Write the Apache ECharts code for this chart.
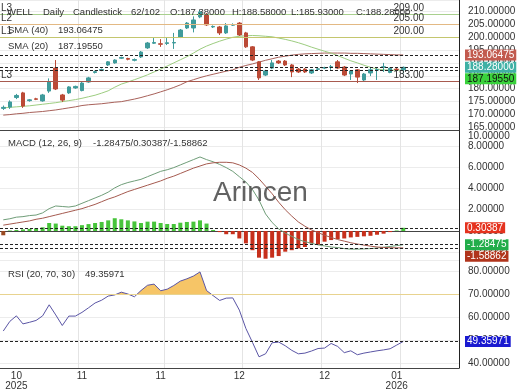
<!DOCTYPE html>
<html><head><meta charset="utf-8">
<script src="https://cdn.jsdelivr.net/npm/echarts@6/dist/echarts.min.js"></script>
<style>html,body{margin:0;padding:0;background:#fff}#c{width:520px;height:390px}</style>
</head><body><div id="c"></div>
<script>
const N_SLOTS = 70;
const categories = Array.from({length: N_SLOTS}, (_, i) => 'D' + (i + 1));

const opens  = [172.4,172.9,176.6,178.4,175.4,176.1,175.3,179.1,188.0,177.6,178.4,180.3,179.3,182.6,186.3,187.1,189.2,190.0,191.8,191.7,191.0,192.3,195.8,197.6,197.4,197.5,197.7,200.0,203.5,203.5,207.8,208.5,203.9,203.9,201.6,204.6,205.4,201.6,196.2,190.4,185.3,188.0,190.7,190.7,189.2,187.6,187.6,186.1,187.5,188.0,188.3,190.4,188.4,185.7,187.3,183.4,186.1,187.2,188.3,186.3,187.6,187.38];
const closes = [172.8,174.9,177.4,173.3,175.7,175.9,177.6,182.6,179.9,175.6,180.7,180.9,182.2,184.2,186.6,187.4,190.4,191.1,192.1,191.4,191.3,194.2,197.7,197.9,197.2,197.8,197.9,202.7,205.4,206.6,209.7,204.7,204.1,201.6,204.3,204.8,200.8,196.2,191.1,184.2,186.9,190.0,190.0,189.2,186.5,186.5,186.5,187.3,187.7,188.2,188.5,188.0,185.3,186.9,184.5,185.7,187.3,187.4,188.5,187.9,187.4,188.28];
const lows   = [171.8,172.2,176.0,172.6,175.0,175.6,175.0,178.4,179.5,174.9,178.0,180.0,179.0,182.3,185.9,186.8,188.8,189.7,191.5,191.0,190.6,191.9,195.4,197.3,196.2,196.9,195.4,199.6,203.1,201.8,207.3,204.3,203.5,200.8,201.2,204.3,200.4,195.8,190.7,183.4,184.9,187.6,189.6,188.8,184.5,186.1,186.1,185.7,187.2,187.6,187.3,187.6,184.9,183.4,182.2,183.0,184.9,183.4,186.5,186.0,186.8,185.93];
const highs  = [173.5,175.5,178.0,178.8,176.0,176.5,178.0,184.0,191.1,178.0,181.0,181.2,182.6,184.6,187.0,187.8,190.7,191.4,192.4,192.0,191.7,194.6,198.1,199.6,199.2,199.6,201.6,203.1,205.8,208.0,210.5,209.3,204.5,204.3,205.4,205.3,205.8,202.0,196.5,190.7,187.3,191.1,191.1,191.1,189.6,188.0,188.0,187.6,188.1,188.5,189.2,191.1,188.8,187.2,187.6,186.1,188.4,188.0,190.0,188.2,188.3,188.58];

const sma20 = [172.6,172.8,173.0,173.2,173.4,173.7,174.0,174.3,174.6,175.0,175.4,175.8,176.3,176.9,177.5,178.3,179.2,180.6,181.8,182.6,183.5,184.4,185.4,186.5,187.6,188.8,190.0,191.2,192.4,193.8,195.3,196.5,197.5,198.4,199.2,199.9,200.3,200.5,200.6,200.5,200.3,200.1,199.6,199.1,198.5,197.8,197.0,196.1,195.3,194.5,193.8,192.8,191.8,190.8,190.0,189.1,188.3,187.6,187.3,187.2,187.15,187.1955];
const sma40 = [169.8,170.0,170.3,170.5,170.8,171.0,171.2,171.5,171.8,172.2,172.6,173.0,173.5,173.8,174.0,174.2,174.5,174.8,175.0,175.5,176.0,176.6,177.3,178.0,178.8,179.6,180.5,181.5,182.7,183.5,184.3,185.0,185.6,186.2,186.8,187.3,188.3,189.0,189.6,190.3,191.0,191.6,192.2,192.6,193.0,193.3,193.5,193.6,193.7,193.8,193.8,193.8,193.8,193.7,193.7,193.6,193.5,193.4,193.3,193.2,193.1,193.06475];

const macdLine = [1.05,1.15,1.3,1.35,1.45,1.5,1.7,2.1,2.35,2.3,2.25,2.35,2.6,2.85,3.1,3.35,3.65,4.05,4.35,4.55,4.7,4.85,5.1,5.35,5.6,5.75,5.95,6.2,6.45,6.7,6.95,6.7,6.5,6.25,5.95,5.6,5.1,4.6,3.9,2.9,1.6,0.8,0.2,-0.2,-0.5,-0.8,-1.0,-1.15,-1.3,-1.4,-1.5,-1.55,-1.65,-1.7,-1.7,-1.68,-1.65,-1.6,-1.52,-1.45,-1.37,-1.28475];
const signalLine = [0.55,0.65,0.75,0.85,0.95,1.1,1.2,1.35,1.5,1.65,1.8,1.95,2.1,2.3,2.5,2.75,3.0,3.2,3.45,3.7,3.9,4.1,4.3,4.5,4.7,4.95,5.15,5.4,5.65,5.9,6.1,6.3,6.4,6.45,6.45,6.4,6.2,5.9,5.5,4.9,4.2,3.5,2.7,2.0,1.4,0.85,0.45,0.1,-0.15,-0.4,-0.6,-0.8,-0.95,-1.1,-1.22,-1.32,-1.42,-1.5,-1.54,-1.57,-1.58,-1.58862];
const macdHist = [-0.4,0.05,0.1,0.15,0.2,0.25,0.35,0.75,0.7,0.5,0.45,0.45,0.55,0.65,0.75,0.85,1.0,1.2,1.1,1.0,0.9,0.75,0.88,0.88,0.75,0.66,0.66,0.78,0.85,0.88,1.0,0.7,0.1,-0.1,-0.3,-0.3,-0.7,-1.16,-1.8,-2.5,-2.6,-2.5,-2.35,-1.94,-1.8,-1.63,-1.5,-1.16,-1.3,-1.0,-0.85,-0.75,-0.7,-0.6,-0.55,-0.5,-0.45,-0.35,-0.25,-0.1,0.05,0.30387];

const rsi = [53.9,58.1,60.5,57,57.7,58.5,60.5,65.3,60.9,56.3,60.4,60.4,62,64,66.1,67.3,69.1,69.6,70.8,70.0,68.8,71.5,73.8,74.3,71.4,72.1,73.7,75.6,76.6,77.8,79.6,71.5,69.3,67.2,68.2,68.3,63,55,49,42.7,44,48.8,49.1,47.5,45.5,44,44.3,45.2,46.3,46.5,48.5,47.2,44.5,45.3,43.6,44.3,44.8,45.3,45.7,46.2,47.8,49.35971];

const priceLevels = [209, 205, 200, 183];
const levelNames = ['L3', 'L2', 'L1', 'L3'];
const levelColors = ['#a9d08e', '#e3b984', '#c4c66e', '#a85a4f'];
const rsiUpper = 70;

const xTickIndex = [2, 12, 24, 36, 49, 60];
const xTickLabels = ['10\n2025', '11', '11', '12', '12', '01\n2026'];
const xGridIndex = [12, 25, 37, 49, 61];

const FONT = '"Liberation Sans", Arial, sans-serif';
const last = opens.length - 1;
const candleData = opens.map((o, i) => [o, closes[i], lows[i], highs[i]]);

function xAxisCfg(gridIndex, showLabels) {
  return {
    type: 'category', gridIndex: gridIndex, data: categories, boundaryGap: true,
    axisLine: {show: true, lineStyle: {color: '#444', width: 1}},
    axisTick: {show: false},
    axisLabel: showLabels ? {
      show: true,
      interval: (i) => xTickIndex.includes(i),
      formatter: (v, i) => { const k = xTickIndex.indexOf(i); return k >= 0 ? xTickLabels[k] : ''; },
      fontSize: 10, color: '#333', fontFamily: FONT, lineHeight: 10, margin: 3
    } : {show: false},
    splitLine: {show: true, interval: (i) => xGridIndex.includes(i), lineStyle: {color: '#e4e4e4', width: 1}}
  };
}
function yAxisCfg(gridIndex, min, max, splitNumber, step) {
  return {
    type: 'value', gridIndex: gridIndex, position: 'right', min: min, max: max, splitNumber: splitNumber,
    axisLine: {show: true, lineStyle: {color: '#222', width: 1}},
    axisTick: {show: false},
    axisLabel: {show: true, fontSize: 10, color: '#333', fontFamily: FONT, margin: 9,
      formatter: (v) => (Math.abs(v / step - Math.round(v / step)) < 1e-6 ? v.toFixed(5) : '')},
    splitLine: {show: true, lineStyle: {color: '#ececec', width: 1}}
  };
}
const dotted = {type: [3, 2], color: '#222', width: 1};

const option = {
  animation: false,
  backgroundColor: '#fff',
  grid: [
    {left: 0, right: 61, top: 0, height: 130, outerBoundsMode: 'none'},
    {left: 0, right: 61, top: 130, height: 130, outerBoundsMode: 'none'},
    {left: 0, right: 61, top: 260, height: 108, outerBoundsMode: 'none'}
  ],
  xAxis: [xAxisCfg(0, false), xAxisCfg(1, false), xAxisCfg(2, true)],
  yAxis: [yAxisCfg(0, 164.04, 214.33, 10, 5), yAxisCfg(1, -2.72, 9.48, 6, 2), yAxisCfg(2, 37.83, 84.78, 5, 10)],
  series: [
    {
      type: 'candlestick', xAxisIndex: 0, yAxisIndex: 0, data: candleData, barWidth: 4,
      itemStyle: {color: '#3f9b9b', color0: '#bb4a36', borderColor: '#3f9b9b', borderColor0: '#bb4a36', borderWidth: 1},
      markLine: {
        silent: true, symbol: ['none', 'none'], animation: false,
        label: {show: false},
        data: [
          {yAxis: sma40[last], lineStyle: dotted},
          {yAxis: closes[last], lineStyle: dotted},
          {yAxis: sma20[last], lineStyle: dotted}
        ]
      }
    },
    {
      type: 'line', xAxisIndex: 0, yAxisIndex: 0, data: sma40, showSymbol: false, symbol: 'none',
      lineStyle: {color: '#a8615a', width: 1}, itemStyle: {color: '#a8615a'}, z: 1,
      markLine: {
        silent: true, symbol: ['none', 'none'], animation: false,
        data: priceLevels.map((v, i) => ({
          yAxis: v, lineStyle: {color: levelColors[i], type: 'solid', width: 1},
          label: {show: true, position: 'insideEndTop', formatter: v.toFixed(2), fontSize: 10, color: '#333',
            fontFamily: FONT, distance: 1, padding: [0, 34, 0, 0]}
        }))
      }
    },
    {
      type: 'line', xAxisIndex: 0, yAxisIndex: 0, data: sma20, showSymbol: false, symbol: 'none',
      lineStyle: {color: '#9dcd80', width: 1}, itemStyle: {color: '#9dcd80'}, z: 1,
      markLine: {
        silent: true, symbol: ['none', 'none'], animation: false,
        data: priceLevels.map((v, i) => ({
          yAxis: v, lineStyle: {color: levelColors[i], type: 'solid', width: 1},
          label: {show: true, position: 'insideStartTop', formatter: levelNames[i], fontSize: 10, color: '#333',
            fontFamily: FONT, distance: 1}
        }))
      }
    },
    {
      type: 'bar', xAxisIndex: 1, yAxisIndex: 1, data: macdHist, barWidth: 4,
      itemStyle: {color: (p) => (p.value >= 0 ? '#47c43a' : (p.dataIndex === 0 ? '#9a4a22' : '#c62f1b'))},
      markLine: {
        silent: true, symbol: ['none', 'none'], animation: false, label: {show: false},
        data: [
          {yAxis: macdHist[last], lineStyle: dotted},
          {yAxis: macdLine[last], lineStyle: dotted},
          {yAxis: signalLine[last], lineStyle: dotted}
        ]
      }
    },
    {
      type: 'line', xAxisIndex: 1, yAxisIndex: 1, data: macdLine, showSymbol: false, symbol: 'none',
      lineStyle: {color: '#6f9d78', width: 1}, itemStyle: {color: '#6f9d78'}
    },
    {
      type: 'line', xAxisIndex: 1, yAxisIndex: 1, data: signalLine, showSymbol: false, symbol: 'none',
      lineStyle: {color: '#a55a4f', width: 1}, itemStyle: {color: '#a55a4f'}
    },
    {
      type: 'line', xAxisIndex: 2, yAxisIndex: 2, data: rsi, showSymbol: false, symbol: 'none',
      lineStyle: {width: 0, opacity: 0}, areaStyle: {origin: 'start', opacity: 1, color: 'rgba(0,0,0,0)'}, z: 1
    },
    {
      type: 'line', xAxisIndex: 2, yAxisIndex: 2, data: rsi, showSymbol: false, symbol: 'none',
      lineStyle: {color: '#5a55a5', width: 1}, itemStyle: {color: '#5a55a5'}, z: 3,
      markLine: {
        silent: true, symbol: ['none', 'none'], animation: false, label: {show: false},
        data: [
          {yAxis: rsiUpper, lineStyle: {color: '#e8d38f', type: 'solid', width: 1}},
          {yAxis: rsi[last], lineStyle: dotted}
        ]
      }
    }
  ]
};

const chart = echarts.init(document.getElementById('c'), null, {renderer: 'canvas'});
chart.setOption(option);

// RSI overbought fill: gradient coloured only above the 70 level
const yTop = chart.convertToPixel({yAxisIndex: 2}, 84.78);
const yBot = chart.convertToPixel({yAxisIndex: 2}, 37.83);
const y70 = chart.convertToPixel({yAxisIndex: 2}, rsiUpper);
const f = Math.min(1, Math.max(0, (y70 - yTop) / (yBot - yTop)));
const fillGrad = new echarts.graphic.LinearGradient(0, yTop, 0, yBot, [
  {offset: 0, color: '#f6c567'}, {offset: f, color: '#f6c567'},
  {offset: f, color: 'rgba(255,255,255,0)'}, {offset: 1, color: 'rgba(255,255,255,0)'}
], true);

const elements = [];
function txt(text, x, y, size, fill) {
  elements.push({type: 'text', z: 100, silent: true,
    style: {text: text, x: x, y: y, fontSize: size, fontFamily: FONT, fill: fill, verticalAlign: 'middle', align: 'left'}});
}
const hdr = [['WELL', 7], ['Daily', 43], ['Candlestick', 73], ['62/102', 131],
  ['O:' + opens[last].toFixed(5), 170], ['H:' + highs[last].toFixed(5), 232],
  ['L:' + lows[last].toFixed(5), 291], ['C:' + closes[last].toFixed(5), 356]];
hdr.forEach(h => txt(h[0], h[1], 12, 9.5, '#333'));
txt('SMA (40)', 8, 30, 9.5, '#333'); txt(sma40[last].toFixed(5), 58, 30, 9.5, '#333');
txt('SMA (20)', 8, 46, 9.5, '#333'); txt(sma20[last].toFixed(5), 58, 46, 9.5, '#333');
txt('MACD (12, 26, 9)', 8, 143, 9.5, '#333');
txt(macdLine[last].toFixed(5) + '/' + macdHist[last].toFixed(5) + '/' + signalLine[last].toFixed(5), 93, 143, 9.5, '#333');
txt('RSI (20, 70, 30)', 8, 274, 9.5, '#333'); txt(rsi[last].toFixed(5), 85, 274, 9.5, '#333');
txt((10).toFixed(5), 468, 136, 10, '#333');
txt('Arincen', 213, 193, 28, 'rgba(70,70,70,0.85)');

function addTags(yAxisIndex, items) {
  let prev = -Infinity;
  items.forEach(it => {
    let y = chart.convertToPixel({yAxisIndex: yAxisIndex}, it.v);
    if (y < prev + 11.5) y = prev + 11.5;
    prev = y;
    elements.push({type: 'text', z: 120, silent: true,
      style: {text: it.v.toFixed(5), x: 465, y: y, verticalAlign: 'middle', align: 'left',
        fill: it.fg, backgroundColor: it.bg, padding: [1, 2, 0, 2], fontSize: 10, fontFamily: FONT}});
  });
}
addTags(0, [{v: sma40[last], bg: '#c25a4e', fg: '#fff'}, {v: closes[last], bg: '#3fb1a5', fg: '#fff'}, {v: sma20[last], bg: '#3ad23c', fg: '#111'}]);
addTags(1, [{v: macdHist[last], bg: '#e5321e', fg: '#fff'}, {v: macdLine[last], bg: '#22ad4a', fg: '#fff'}, {v: signalLine[last], bg: '#b0341c', fg: '#fff'}]);
addTags(2, [{v: rsi[last], bg: '#1a1ad0', fg: '#fff'}]);

chart.setOption({
  series: [{}, {}, {}, {}, {}, {}, {areaStyle: {origin: 'start', opacity: 1, color: fillGrad}}, {}],
  graphic: {elements: elements}
});
</script>
</body></html>
